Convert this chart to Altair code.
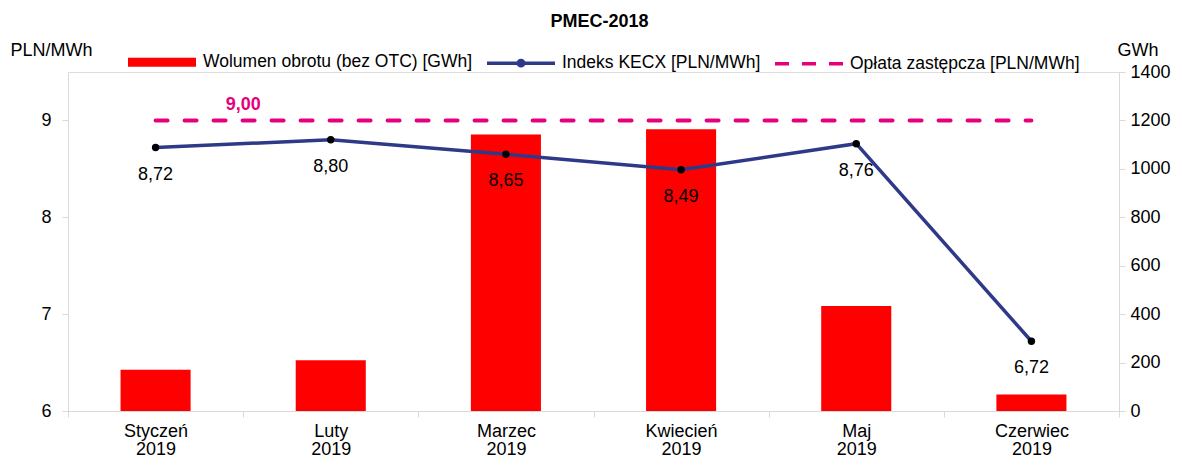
import altair as alt
import pandas as pd

# ---------------- data ----------------
months = ["Styczeń 2019", "Luty 2019", "Marzec 2019", "Kwiecień 2019", "Maj 2019", "Czerwiec 2019"]
volume_gwh = [170, 210, 1142, 1164, 434, 68]
kecx_index = [8.72, 8.80, 8.65, 8.49, 8.76, 6.72]
oplata = [9.00, 9.00, 9.00, 9.00, 9.00, 9.00]

S_VOL = "Wolumen obrotu (bez OTC) [GWh]"
S_KECX = "Indeks KECX [PLN/MWh]"
S_OPL = "Opłata zastępcza [PLN/MWh]"
series_names = [S_VOL, S_KECX, S_OPL]

RED = "#FF0000"
NAVY = "#2E3A87"
MAGENTA = "#E6007E"
GRAY = "#D9D9D9"
FONT = "Liberation Sans"

df = pd.DataFrame({
    "month": months,
    "volume": volume_gwh,
    "kecx": kecx_index,
    "oplata": oplata,
    "series": [S_VOL] * len(months),
})
df["kecx_label"] = [f"{v:.2f}".replace(".", ",") for v in kecx_index]
df["opl_label"] = [f"{v:.2f}".replace(".", ",") for v in oplata]

x_scale = alt.Scale(domain=months, paddingInner=0, paddingOuter=0)
x_axis = alt.Axis(
    title=None, labelAngle=0, labelFontSize=18, labelLineHeight=18, labelPadding=5,
    labelExpr="split(datum.label, ' ')", tickSize=6, tickBand="extent",
    domainColor=GRAY, tickColor=GRAY, labelColor="#000000", labelFont=FONT,
)
X = alt.X("month:N", scale=x_scale, axis=x_axis, sort=months)


def pick(a, b, c):
    return alt.ExprRef(expr=f"datum.value === '{S_VOL}' ? {a} : (datum.value === '{S_KECX}' ? {b} : {c})")


legend = alt.Legend(
    title=None, orient="none", direction="horizontal", legendX=58, legendY=-46,
    labelFontSize=17.5, labelFont=FONT, labelColor="#000000", labelOffset=5, labelLimit=500,
    columnPadding=7, symbolSize=4624, symbolStrokeWidth=3.5, symbolOpacity=1,
    symbolType=pick(
        "'M-1,-0.13H1V0.13H-1Z'",
        "'M-1,0H1M0.08,0A0.08,0.08 0 1 1 -0.08,0A0.08,0.08 0 1 1 0.08,0'",
        "'M-1,0H-0.588M-0.206,0H0.206M0.588,0H1'",
    ),
    symbolStrokeColor=pick("'transparent'", f"'{NAVY}'", f"'{MAGENTA}'"),
)

bars = alt.Chart(df).mark_bar(width=alt.RelativeBandSize(0.4)).encode(
    x=X,
    y=alt.Y("volume:Q", scale=alt.Scale(domain=[0, 1400], nice=False),
            axis=alt.Axis(orient="right", values=list(range(0, 1401, 200)), format="d", grid=False,
                          title="GWh", titleAngle=0, titleX=-2, titleY=-17, titleAlign="left",
                          titleBaseline="alphabetic", titleFontWeight="normal", titleFontSize=18,
                          titleFont=FONT, labelFont=FONT, labelFontSize=18, labelPadding=5,
                          tickSize=6, domainColor=GRAY, tickColor=GRAY, labelColor="#000000")),
    color=alt.Color("series:N", scale=alt.Scale(domain=series_names, range=[RED, NAVY, MAGENTA]),
                    legend=legend),
)

y_price = alt.Y("kecx:Q", scale=alt.Scale(domain=[6, 9.5], nice=False),
                axis=alt.Axis(orient="left", values=[6, 7, 8, 9], format="d", grid=False,
                              title="PLN/MWh", titleAngle=0, titleX=-58, titleY=-17, titleAlign="left",
                              titleBaseline="alphabetic", titleFontWeight="normal", titleFontSize=18,
                              titleFont=FONT, labelFont=FONT, labelFontSize=18, labelPadding=11,
                              tickSize=6, domainColor=GRAY, tickColor=GRAY, labelColor="#000000"))

base = alt.Chart(df)
opl_line = base.mark_line(color=MAGENTA, strokeWidth=4, strokeDash=[12, 17], strokeCap="round").encode(
    x=X, y=alt.Y("oplata:Q")
)
kecx_line = base.mark_line(color=NAVY, strokeWidth=3.5).encode(x=X, y=y_price)
kecx_pts = base.mark_point(filled=True, color="#000000", size=55, opacity=1).encode(x=X, y="kecx:Q")
kecx_txt = base.mark_text(dy=27, fontSize=18, font=FONT, color="#000000", baseline="middle").encode(
    x=X, y="kecx:Q", text="kecx_label:N"
)
opl_txt = alt.Chart(df.iloc[[0]]).mark_text(
    dy=-15, fontSize=18, font=FONT, fontWeight="bold", color=MAGENTA, baseline="middle"
).encode(
    x=alt.X("month:N", scale=x_scale, axis=x_axis, sort=months, bandPosition=1),
    y="oplata:Q", text="opl_label:N",
)

price_layer = alt.layer(kecx_line, opl_line, kecx_pts, kecx_txt, opl_txt)

chart = alt.layer(bars, price_layer).resolve_scale(y="independent").properties(
    width=1051, height=339,
    padding={"left": 60, "top": 64, "right": 52, "bottom": 48},
    autosize=alt.AutoSizeParams(type="none"),
    title=alt.TitleParams("PMEC-2018", fontSize=18, fontWeight="bold", font=FONT, anchor="middle",
                          frame="group", offset=-19, baseline="alphabetic", dx=6, color="#000000"),
).configure_view(stroke=None).configure(font=FONT)

chart.save("out.html", embed_options={"renderer": "svg", "actions": False})
